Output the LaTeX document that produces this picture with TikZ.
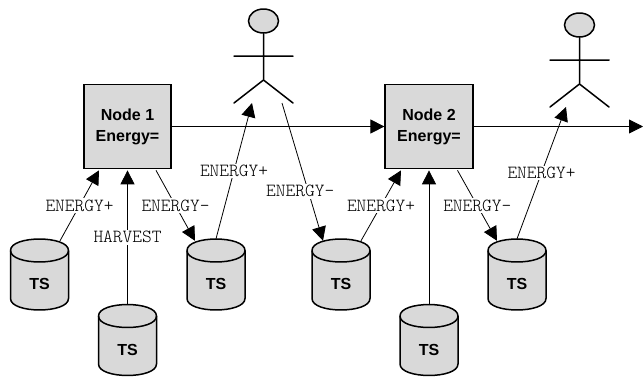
\documentclass[tikz,border=0pt]{standalone}
\usepackage{fontspec}
\setmainfont{Liberation Sans}
\newfontfamily\lblfont{Latin Modern Mono Light}
\usetikzlibrary{arrows.meta,calc,shapes.geometric}
\definecolor{boxgray}{gray}{0.85}
\tikzset{
  x=1pt,y=-1pt,
  nodebox/.style={draw=black,line width=1.7pt,fill=boxgray,minimum width=87.5pt,minimum height=84pt,inner sep=0pt,align=center,font=\fontsize{16}{21}\selectfont\bfseries},
  tsbox/.style={rectangle,minimum width=59pt,minimum height=71pt,inner sep=0pt,text height=30pt,text depth=0pt,font=\fontsize{16}{18}\selectfont\bfseries},
  cylbody/.style={draw=black,line width=1.5pt,fill=boxgray,line join=round},
  conn/.style={line width=0.8pt,-{Triangle[length=14pt,width=14pt]}},
  lbl/.style={fill=white,inner sep=1.5pt,font=\lblfont\fontsize{18.5}{20}\selectfont},
  stick/.style={line width=1.5pt,line cap=round},
  headshape/.style={ellipse,draw=black,line width=1.5pt,fill=boxgray,minimum width=30pt,minimum height=24pt,inner sep=0pt}
}
\newcommand\tsnode[3]{%
  \begin{scope}[shift={(#2,#3)}]
    \draw[cylbody] (-29,-24) -- (-29,24) .. controls (-29,39.3) and (29,39.3) .. (29,24) -- (29,-24) .. controls (29,-39.3) and (-29,-39.3) .. cycle;
    \draw[cylbody,fill=none] (-29,-24) .. controls (-29,-8.7) and (29,-8.7) .. (29,-24);
  \end{scope}
  \node[tsbox] (#1) at (#2,#3) {TS};}
\begin{document}
\begin{tikzpicture}
\useasboundingbox (0,0) rectangle (643,376);
\node[nodebox] (n1) at (127.5,126.5) {Node 1\\Energy=};
\node[nodebox] (n2) at (429,126.5) {Node 2\\Energy=};
\tsnode{t1}{39.5}{274.5}
\tsnode{t2}{127.5}{340}
\tsnode{t3}{216}{274.5}
\tsnode{t4}{341}{274.5}
\tsnode{t5}{429}{340}
\tsnode{t6}{517}{274.5}
% figures
\node[headshape] (h1) at (263.5,21) {};
\coordinate (p1hip) at (263.5,80);
\coordinate (p1foot) at (252,103);
\coordinate (p1out) at (282,103);
\draw[stick] (h1.south) -- (p1hip) (234,56) -- (293,56) (234,103) -- (p1hip) -- (293,103);
\node[headshape] (h2) at (579.5,25) {};
\coordinate (p2hip) at (579.5,84);
\coordinate (p2foot) at (566,107);
\draw[stick] (h2.south) -- (p2hip) (550,60) -- (609,60) (550,107) -- (p2hip) -- (609,107);
\coordinate (exit) at (643,126.5);
% connectors
\draw[conn] (n1.east) -- (n2.west);
\draw[conn] (n2.east) -- (exit);
\draw[conn] ($(t1.north)+(20.5,2)$) -- node[lbl] (l1) {ENERGY+} ($(n1.south)+(-28.5,1)$);
\draw[conn] (t2.north) -- node[lbl,pos=.5] (l2) {HARVEST} ($(n1.south)+(0,1)$);
\draw[conn] ($(n1.south)+(28.5,1)$) -- node[lbl] (l3) {ENERGY-} ($(t3.north)+(-21,2)$);
\draw[conn] (t3.north) -- node[lbl,pos=.5] (l4) {ENERGY+} (p1foot);
\draw[conn] (p1out) -- node[lbl,pos=.64,xshift=-8pt] (l5) {ENERGY-} ($(t4.north)+(-18,2)$);
\draw[conn] ($(t4.north)+(20,2)$) -- node[lbl] (l6) {ENERGY+} ($(n2.south)+(-28,1)$);
\draw[conn] (t5.north) -- ($(n2.south)+(0,1)$);
\draw[conn] ($(n2.south)+(28.5,1)$) -- node[lbl] (l7) {ENERGY-} ($(t6.north)+(-20,2)$);
\draw[conn] (t6.north) -- node[lbl,pos=.5] (l8) {ENERGY+} (p2foot);
\end{tikzpicture}
\end{document}
